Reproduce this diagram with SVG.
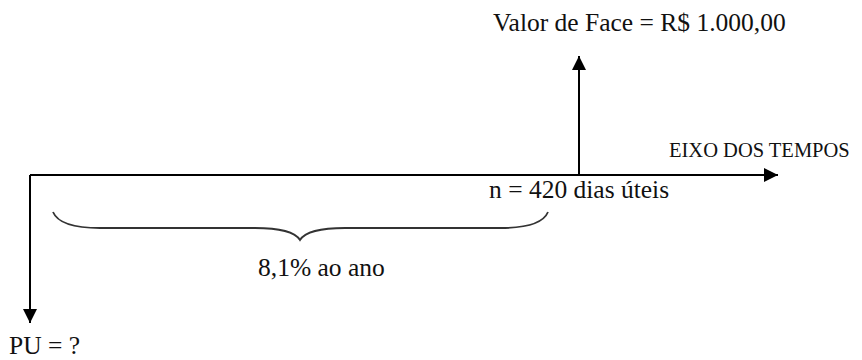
<svg xmlns="http://www.w3.org/2000/svg" width="862" height="360" viewBox="0 0 862 360">
  <style>
    .ln { stroke: #000; stroke-width: 2; fill: none; }
    .br { stroke: #333; stroke-width: 1.8; fill: none; }
    .t { font-family: "Liberation Serif", "Times New Roman", serif; fill: #111; font-size: 25.5px; }
  </style>
  <defs>
    <marker id="arr" viewBox="0 0 10 10" refX="10" refY="5" markerWidth="14" markerHeight="14" markerUnits="userSpaceOnUse" orient="auto">
      <path d="M0,0 L10,5 L0,10 z" fill="#000"/>
    </marker>
  </defs>
  <rect width="862" height="360" fill="#fff"/>

  <g id="connectors">
    <!-- time axis -->
    <path class="ln" d="M30,175 L778,175" marker-end="url(#arr)"/>
    <!-- PU outflow -->
    <path class="ln" d="M30,175 L30,323" marker-end="url(#arr)"/>
    <!-- face value inflow -->
    <path class="ln" d="M579,175 L579,56" marker-end="url(#arr)"/>
    <!-- period brace -->
    <path class="br" d="M53,212 C58,224 75,228 100,228 L255,228 C280,228 295,232 300,240 C305,232 320,228 345,228 L500,228 C525,228 543,224 548,212"/>
  </g>

  <g id="face-value">
    <text class="t" x="493" y="31">Valor de Face = R$ 1.000,00</text>
  </g>
  <g id="axis-label">
    <text class="t" x="669" y="157" style="font-size:20.5px">EIXO DOS TEMPOS</text>
  </g>
  <g id="period">
    <text class="t" x="489" y="198">n = 420 dias úteis</text>
  </g>
  <g id="rate">
    <text class="t" x="258" y="276">8,1% ao ano</text>
  </g>
  <g id="pu">
    <text class="t" x="9" y="354">PU = ?</text>
  </g>
</svg>
